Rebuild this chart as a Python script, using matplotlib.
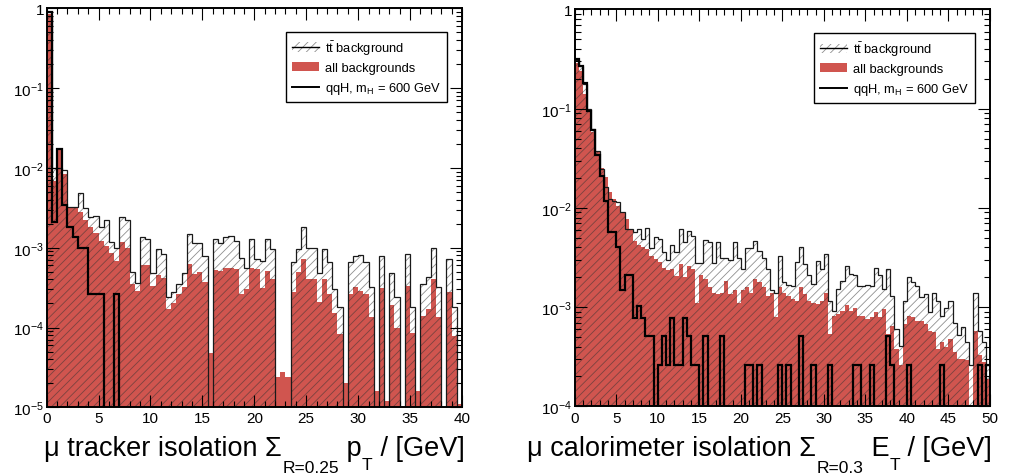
import numpy as np
import matplotlib
matplotlib.use('Agg')
import matplotlib.pyplot as plt
from matplotlib.patches import Patch
from matplotlib.lines import Line2D
from matplotlib.ticker import LogLocator, MultipleLocator, FuncFormatter, NullFormatter

font = 'Liberation Sans'
plt.rcParams['font.family'] = [font, 'DejaVu Sans']
plt.rcParams['mathtext.fontset'] = 'custom'
plt.rcParams['mathtext.rm'] = font
plt.rcParams['mathtext.it'] = font
plt.rcParams['mathtext.sf'] = font
plt.rcParams['hatch.linewidth'] = 0.6

# ---- tracker isolation (0-40 GeV, 0.5 GeV bins) ----
trk_all = [0.85, 0.0069, 0.0173, 0.0084, 0.0031, 0.0032, 0.0028, 0.0022, 0.0018, 0.00155,
           0.00123, 0.00105, 0.00087, 0.00069, 0.00117, 0.001, 0.00035, 0.00029, 0.0006, 0.0006,
           0.00033, 0.00046, 0.00042, 0.00017, 0.0002, 0.00026, 0.00032, 0.00063, 0.00047, 0.00049,
           0.00037, 4.8e-5, 0.00053, 0.00051, 0.00055, 0.00056, 0.00054, 0.00026, 0.0003, 0.00055,
           0.00054, 0.00031, 0.00051, 0.0004, 2.4e-5, 2.8e-5, 2.4e-5, 0.00028, 0.0005, 0.00072,
           0.00041, 0.00041, 0.00021, 0.0004, 0.00026, 0.00015, 8.3e-5, 2e-5, 0.00026, 0.00032,
           0.00029, 0.00026, 0.000135, 1.6e-5, 0.00031, 1.2e-5, 0.00019, 0.0001, 0, 0.00033,
           8.5e-5, 1.6e-5, 0.00014, 0.00017, 0.0004, 0.000135, 0, 0.00028, 7.9e-5, 1.1e-5]
trk_tt = [0.8, 0.01, 0.01, 0.0095, 0.0032, 0.0032, 0.0049, 0.0031, 0.0024, 0.0025,
          0.0018, 0.0022, 0.00117, 0.001, 0.0024, 0.0022, 0.00049, 0.00036, 0.00135, 0.0013,
          0.00048, 0.00096, 0.00083, 0.00024, 0.00028, 0.00035, 0.00048, 0.00147, 0.00114, 0.00114,
          0.00079, 0, 0.00129, 0.00114, 0.00135, 0.0014, 0.00122, 0.00075, 0.00056, 0.0013,
          0.00072, 0.00069, 0.00129, 0.00096, 0, 0, 0, 0.00067, 0.00096, 0.0018,
          0.001, 0.001, 0.00048, 0.00096, 0.00067, 0.0003, 0.00018, 0, 0.00067, 0.00079,
          0.0008, 0.00066, 0.00032, 0, 0.00079, 0, 0.00048, 0.00024, 0, 0.00083,
          0.00018, 0, 0.00035, 0.00043, 0.00098, 0.00032, 0, 0.00072, 0.00018, 0]
trk_qqh = [0.9, 0.0021, 0.0173, 0.0034, 0.0018, 0.00135, 0.001, 0.001, 0.00026, 0.00026,
           0.00026, 0, 0, 0.00026, 0, 0, 0, 0, 0, 0,
           0, 0, 0, 0, 0, 0, 0, 0, 0, 0,
           0, 0, 0, 0, 0, 0, 0, 0, 0, 0,
           0, 0, 0, 0, 0, 0, 0, 0, 0, 0,
           0, 0, 0, 0, 0, 0, 0, 0, 0, 0,
           0, 0, 0, 0, 0, 0, 0, 0, 0, 0,
           0, 0, 0, 0, 0, 0, 0, 0, 0, 0]

# ---- calorimeter isolation (0-50 GeV, 0.5 GeV bins) ----
cal_all = [0.29, 0.24, 0.14, 0.092, 0.0587, 0.0377, 0.025, 0.0203, 0.0144, 0.0123,
           0.0105, 0.009, 0.0077, 0.0061, 0.0046, 0.0042, 0.004, 0.00385, 0.0033, 0.00305,
           0.00283, 0.0025, 0.00238, 0.0024, 0.00207, 0.00272, 0.002, 0.0026, 0.0024, 0.0011,
           0.0021, 0.0019, 0.0016, 0.0014, 0.00135, 0.0014, 0.00185, 0.00135, 0.0015, 0.0011,
           0.0015, 0.0016, 0.0014, 0.0019, 0.0018, 0.0016, 0.0013, 0.0014, 0.0008, 0.0016,
           0.0014, 0.0013, 0.0012, 0.00115, 0.0016, 0.00136, 0.00115, 0.0011, 0.00107, 0.00115,
           0.0014, 0.00054, 0.00082, 0.00085, 0.00092, 0.00105, 0.00092, 0.00099, 0.00082, 0.00082,
           0.00076, 0.00079, 0.00089, 0.00079, 0.00096, 0.00054, 0.00065, 0.00038, 0.00026, 0.00068,
           0.00082, 0.00079, 0.00073, 0.00072, 0.00068, 0.00058, 0.00056, 0.00038, 0.00045, 0.0004,
           0.00048, 0.00035, 0.0003, 0.0003, 0.00029, 0, 0.00058, 0.00033, 0.00028, 0.00019]
cal_tt = [0.31, 0.27, 0.177, 0.099, 0.0624, 0.0377, 0.0247, 0.0161, 0.0123, 0.0118,
          0.0114, 0.009, 0.0061, 0.0061, 0.0057, 0.0062, 0.0049, 0.0063, 0.0039, 0.0051,
          0.0049, 0.0036, 0.003, 0.0042, 0.0036, 0.0061, 0.0045, 0.0059, 0.0052, 0.0028,
          0.0028, 0.0048, 0.0045, 0.0028, 0.0045, 0.0031, 0.0031, 0.003, 0.0045, 0.0031,
          0.0024, 0.0039, 0.0039, 0.0046, 0.0037, 0.0031, 0.0024, 0.0015, 0.0014, 0.0033,
          0.00178, 0.00166, 0.00164, 0.00283, 0.004, 0.00275, 0.0021, 0.0017, 0.0029, 0.0024,
          0.00343, 0.00115, 0.00092, 0.00152, 0.00185, 0.0026, 0.00215, 0.0021, 0.00164, 0.00164,
          0.00166, 0.00164, 0.0025, 0.0021, 0.00152, 0.00245, 0.0013, 0.0006, 0.00041, 0.00115,
          0.002, 0.0018, 0.00164, 0.00126, 0.00136, 0.00089, 0.0014, 0.00115, 0.00082, 0.00099,
          0.00115, 0.0007, 0.00052, 0.00063, 0.00045, 0.00026, 0.0014, 0.00058, 0.00045, 0.00026]
cal_qqh = [0.32, 0.27, 0.18, 0.095, 0.061, 0.034, 0.021, 0.0118, 0.0057, 0.0057,
           0.004, 0.0015, 0.0021, 0.0021, 0.00077, 0.00103, 0.00077, 0.00051, 0.00051, 0,
           0.00026, 0.00051, 0.00026, 0.00077, 0.00026, 0.00026, 0.00077, 0.00051, 0.00026, 0.00026,
           0, 0.00051, 0, 0, 0, 0.00051, 0, 0, 0, 0,
           0, 0.00026, 0.00026, 0, 0.00026, 0, 0, 0, 0, 0.00026,
           0, 0.00026, 0, 0, 0.00051, 0, 0, 0.00026, 0, 0,
           0, 0.00026, 0, 0, 0, 0, 0, 0.00026, 0.00026, 0,
           0, 0.00026, 0, 0, 0, 0.00051, 0.00026, 0, 0, 0,
           0.00026, 0, 0, 0, 0, 0, 0, 0, 0.00026, 0,
           0, 0, 0, 0, 0, 0, 0, 0.00026, 0, 0.00026]

legend_labels = [r't$\bar{\rm t}$ background', 'all backgrounds', r'qqH, m$_{\rm H}$ = 600 GeV']
# axis titles: main text, big subscript, symbol, its subscript, unit
trk_title = ['\u03bc tracker isolation \u03a3', 'R=0.25', ' p', 'T', ' / [GeV]']
cal_title = ['\u03bc calorimeter isolation \u03a3', 'R=0.3', ' E', 'T', ' / [GeV]']

RED = '#D0554F'
HATCH = (0.2, 0.2, 0.2, 0.55)


def yfmt(v, pos):
    e = int(round(np.log10(v)))
    return '1' if e == 0 else r'$10^{%d}$' % e


def place_title(ax, parts, x0, y0, size=19.5, sub=12.5):
    main1 = ax.annotate(parts[0], xy=(x0, y0), xycoords='figure pixels',
                        ha='left', va='baseline', fontsize=size, annotation_clip=False)
    sub1 = ax.annotate(parts[1], xy=(1, 0), xycoords=main1, xytext=(1, -14),
                       textcoords='offset pixels', ha='left', va='bottom', fontsize=sub)
    main2 = ax.annotate(parts[2], xy=(1, 0), xycoords=(sub1, main1),
                        ha='left', va='bottom', fontsize=size)
    sub2 = ax.annotate(parts[3], xy=(1, 0), xycoords=main2, xytext=(0, -11),
                       textcoords='offset pixels', ha='left', va='bottom', fontsize=sub)
    ax.annotate(parts[4], xy=(1, 0), xycoords=(sub2, main1),
                ha='left', va='bottom', fontsize=size)


def draw(ax, xmax, ymin, allbkg, ttbar, qqh):
    edges = np.linspace(0, xmax, len(allbkg) + 1)
    floor = ymin * 1e-3
    a = np.where(np.array(allbkg) > 0, allbkg, floor)
    t = np.where(np.array(ttbar) > 0, ttbar, floor)
    q = np.where(np.array(qqh) > 0, qqh, floor)
    ax.stairs(a, edges, baseline=floor, fill=True, facecolor=RED, edgecolor='none', lw=0)
    ax.stairs(t, edges, baseline=floor, fill=True, facecolor='none', edgecolor=HATCH,
              hatch='////', lw=0)
    ax.stairs(t, edges, baseline=None, color='#1a1a1a', lw=0.9)
    ax.stairs(q, edges, baseline=None, color='black', lw=1.6)

    ax.set_yscale('log')
    ax.set_xlim(0, xmax)
    ax.set_ylim(ymin, 1)
    ax.xaxis.set_major_locator(MultipleLocator(5))
    ax.xaxis.set_minor_locator(MultipleLocator(1))
    ax.yaxis.set_major_locator(LogLocator(base=10, numticks=20))
    ax.yaxis.set_minor_locator(LogLocator(base=10, subs=np.arange(2, 10), numticks=20))
    ax.yaxis.set_major_formatter(FuncFormatter(yfmt))
    ax.yaxis.set_minor_formatter(NullFormatter())
    ax.tick_params(which='both', direction='in', top=True, right=True, width=0.8,
                   labelsize=11)
    ax.tick_params(which='major', length=8.5)
    ax.tick_params(which='minor', length=4.3)
    ax.tick_params(axis='x', pad=3)
    ax.tick_params(axis='y', pad=2)
    for s in ax.spines.values():
        s.set_linewidth(1.4)

    handles = [(Patch(facecolor='white', edgecolor=HATCH, hatch='////', lw=0),
                Line2D([], [], color='black', lw=1.0)),
               Patch(facecolor=RED, edgecolor='none'),
               Line2D([], [], color='black', lw=1.4)]
    leg = ax.legend(handles, legend_labels, loc='upper right', bbox_to_anchor=(0.963, 0.94),
                    fontsize=9.3, frameon=True, fancybox=False, framealpha=1,
                    edgecolor='black', handlelength=2.1, handletextpad=0.45,
                    labelspacing=0.45, borderpad=0.45, borderaxespad=0)
    leg.get_frame().set_linewidth(1.0)


fig = plt.figure(figsize=(10.1, 4.77), dpi=100)
ax1 = fig.add_axes([0.0462, 0.144, 0.4112, 0.8365])
ax2 = fig.add_axes([0.569, 0.146, 0.4112, 0.832])

draw(ax1, 40, 1e-5, trk_all, trk_tt, trk_qqh)
draw(ax2, 50, 1e-4, cal_all, cal_tt, cal_qqh)

place_title(ax1, trk_title, 44, 21)
place_title(ax2, cal_title, 527, 21)

fig.savefig('out.png', dpi=100)
